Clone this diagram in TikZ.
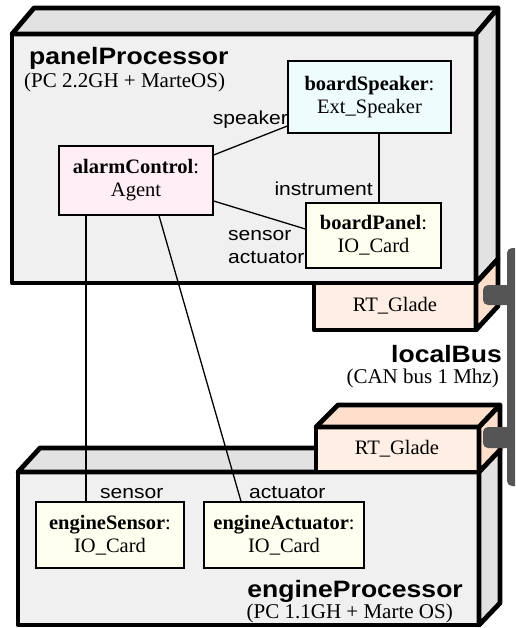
\documentclass[tikz,border=0pt]{standalone}
\usepackage{fontspec}
\setmainfont{Liberation Serif}
\newfontfamily\lab[FakeStretch=1.12]{Liberation Sans}
\definecolor{frontgray}{HTML}{F0F0F0}
\definecolor{sidegray}{HTML}{E2E2E2}
\definecolor{peachfront}{HTML}{FEEEE4}
\definecolor{peachside}{HTML}{FDDFCC}
\definecolor{buscol}{HTML}{555555}
\definecolor{cyanfill}{HTML}{EEFCFE}
\definecolor{pinkfill}{HTML}{FFEEF5}
\definecolor{yelfill}{HTML}{FFFFF0}
\tikzset{
  box3d/.style={draw=black, line width=4.8pt, line join=round},
  obj/.style={draw=black, line width=1.3pt, rectangle, inner sep=2pt, align=center,
     font=\fontsize{20.5}{23}\selectfont},
  conn/.style={draw=black, line width=1.3pt},
  rolelab/.style={inner sep=0pt, font=\lab\fontsize{18.8}{22}\selectfont},
  titlelab/.style={inner sep=0pt, font=\lab\bfseries\fontsize{23.7}{28}\selectfont},
  sublab/.style={inner sep=0pt, font=\fontsize{21}{24}\selectfont},
  glade/.style={inner sep=0pt, font=\fontsize{20.5}{24}\selectfont}
}
\begin{document}
\begin{tikzpicture}[x=1pt,y=-1pt]
\useasboundingbox (0,0) rectangle (515,628);
\clip (0,0) rectangle (515,628);
\fill[white] (0,0) rectangle (515,628);

% engine processor
\filldraw[box3d, fill=frontgray] (18,472) rectangle (479,625);
\filldraw[box3d, fill=sidegray] (18,472) -- (40,448) -- (500,448) -- (479,472) -- cycle;
\filldraw[box3d, fill=sidegray] (479,472) -- (500,448) -- (500,603) -- (479,625) -- cycle;

% lower RT_Glade
\filldraw[box3d, fill=peachfront] (316,427) rectangle (479,472);
\filldraw[box3d, fill=peachside] (316,427) -- (338,405) -- (500,405) -- (479,427) -- cycle;
\filldraw[box3d, fill=peachside] (479,427) -- (500,405) -- (500,450) -- (479,472) -- cycle;
\node[glade] (g2) at (397,449) {RT\_Glade};

% panel processor
\filldraw[box3d, fill=frontgray] (12,34) rectangle (476,283);
\filldraw[box3d, fill=sidegray] (12,34) -- (34,8) -- (498,8) -- (476,34) -- cycle;
\filldraw[box3d, fill=sidegray] (476,34) -- (498,8) -- (498,259) -- (476,283) -- cycle;

% upper RT_Glade
\filldraw[box3d, fill=peachfront] (314,283) rectangle (476,330);
\filldraw[box3d, fill=peachside] (476,283) -- (498,259) -- (498,306) -- (476,330) -- cycle;
\node[glade] (g1) at (395,306) {RT\_Glade};

% bus
\fill[buscol, rounded corners=5pt] (507,248) rectangle (524,486);
\fill[buscol, rounded corners=5pt] (483,285) rectangle (512,305);
\fill[buscol, rounded corners=5pt] (483,427) rectangle (512,448);

% titles
\node[titlelab, anchor=base west] (pt) at (29,65) {panelProcessor};
\node[sublab, anchor=base west] (ps) at (24,88) {(PC 2.2GH + MarteOS)};
\node[titlelab, anchor=base east] (bt) at (502,362) {localBus};
\node[sublab, anchor=base east] (bsub) at (499,383) {(CAN bus 1 Mhz)};
\node[titlelab, anchor=base east] (et) at (463,597) {engineProcessor};
\node[sublab, anchor=base east] (esub) at (453,618) {(PC 1.1GH + Marte OS)};

% objects
\node[obj, fill=cyanfill, minimum width=163pt, minimum height=72pt] (bs) at (369.5,97) {\textbf{boardSpeaker}:\\Ext\_Speaker};
\node[obj, fill=pinkfill, minimum width=154pt, minimum height=69pt] (ac) at (136,180.5) {\textbf{alarmControl}:\\Agent};
\node[obj, fill=yelfill, minimum width=135pt, minimum height=65pt] (bp) at (373.5,235.5) {\textbf{boardPanel}:\\IO\_Card};
\node[obj, fill=yelfill, minimum width=148pt, minimum height=66pt] (es) at (110,535) {\textbf{engineSensor}:\\IO\_Card};
\node[obj, fill=yelfill, minimum width=160pt, minimum height=66pt] (ea) at (284,535) {\textbf{engineActuator}:\\IO\_Card};

% connectors
\draw[conn] ([yshift=25.5pt]ac.east) -- ([yshift=-29pt]bs.west);
\draw[conn] ([xshift=9.5pt]bs.south) -- ([xshift=9.5pt]bs.south |- bp.north);
\draw[conn] ([yshift=-20.5pt]ac.east) -- ([yshift=6.5pt]bp.west);
\draw[conn] ([xshift=-50pt]ac.south) -- ([xshift=-50pt]ac.south |- es.north);
\draw[conn] ([xshift=23pt]ac.south) -- ([xshift=-43pt]ea.north);

% role labels
\node[rolelab, anchor=base east] (l1) at (288,125) {speaker};
\node[rolelab, anchor=base east] (l2) at (373,196) {instrument};
\node[rolelab, anchor=base west] (l3) at (228,240) {sensor};
\node[rolelab, anchor=base west] (l4) at (228,263) {actuator};
\node[rolelab, anchor=base west] (l5) at (100,498) {sensor};
\node[rolelab, anchor=base west] (l6) at (249,498) {actuator};
\end{tikzpicture}
\end{document}
